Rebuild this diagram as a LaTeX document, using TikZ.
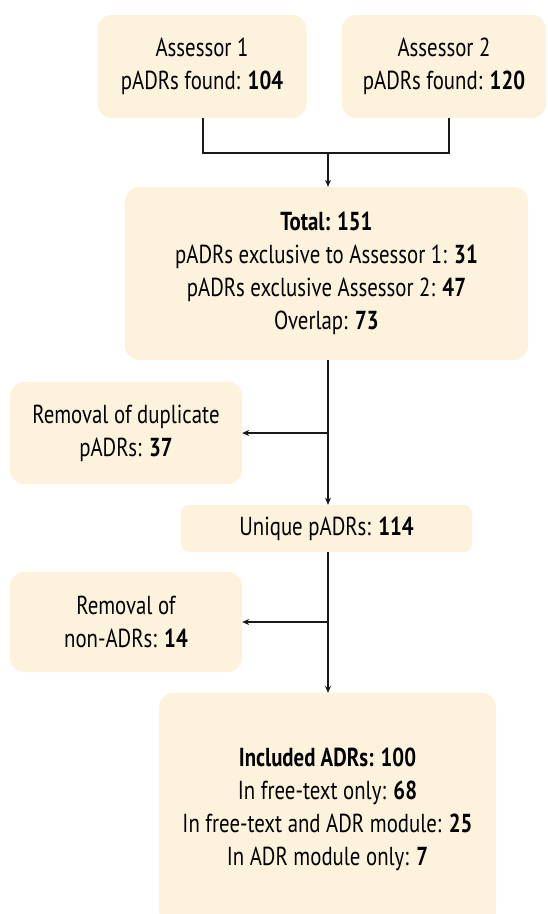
\documentclass[tikz,border=0pt]{standalone}
\usepackage{fontspec}
\setmainfont{PT Sans}[FakeStretch=0.8]
\usetikzlibrary{arrows.meta}
\definecolor{boxfill}{HTML}{FDF3DC}
\tikzset{
  box/.style={fill=boxfill, draw=none, rounded corners=14pt, align=center,
    font=\fontsize{26}{33}\selectfont, inner sep=0pt},
  conn/.style={line width=1.8pt, draw=black!90},
  arr/.style={conn, -{Stealth[length=7pt,width=6pt]}}
}
\begin{document}
\begin{tikzpicture}[x=1pt,y=-1pt]
\useasboundingbox (0,0) rectangle (548,914);
\node[box, minimum width=209pt, minimum height=103pt] (a1) at (202,66.5) {Assessor 1\\pADRs found: \textbf{104}};
\node[box, minimum width=204pt, minimum height=103pt] (a2) at (444,66.5) {Assessor 2\\pADRs found: \textbf{120}};
\node[box, minimum width=403pt, minimum height=173pt] (total) at (326.5,273.5) {\textbf{Total: 151}\\pADRs exclusive to Assessor 1: \textbf{31}\\pADRs exclusive Assessor 2: \textbf{47}\\Overlap: \textbf{73}};
\node[box, minimum width=232pt, minimum height=102pt] (dup) at (126,433) {Removal of duplicate\\pADRs: \textbf{37}};
\node[box, minimum width=291pt, minimum height=47pt, rounded corners=8pt] (uniq) at (326.5,528.5) {Unique pADRs: \textbf{114}};
\node[box, minimum width=232pt, minimum height=100pt] (nonadr) at (126,622) {Removal of\\non-ADRs: \textbf{14}};
\node[box, minimum width=337pt, minimum height=232pt] (incl) at (327.5,809) {\textbf{Included ADRs: 100}\\In free-text only: \textbf{68}\\In free-text and ADR module: \textbf{25}\\In ADR module only: \textbf{7}};
\coordinate (j1) at (328,153);
\coordinate (j2) at (328,433);
\coordinate (j3) at (328,622);
\draw[conn] (a1.south -| 203,0) |- (j1) -| (a2.south -| 449,0);
\draw[arr] (j1) -- (j1 |- total.north);
\draw[arr] (total.south -| j1) -- (uniq.north -| j1);
\draw[arr] (j2) -- (dup.east |- j2);
\draw[arr] (uniq.south -| j1) -- (incl.north -| j1);
\draw[arr] (j3) -- (nonadr.east |- j3);
\end{tikzpicture}
\end{document}
